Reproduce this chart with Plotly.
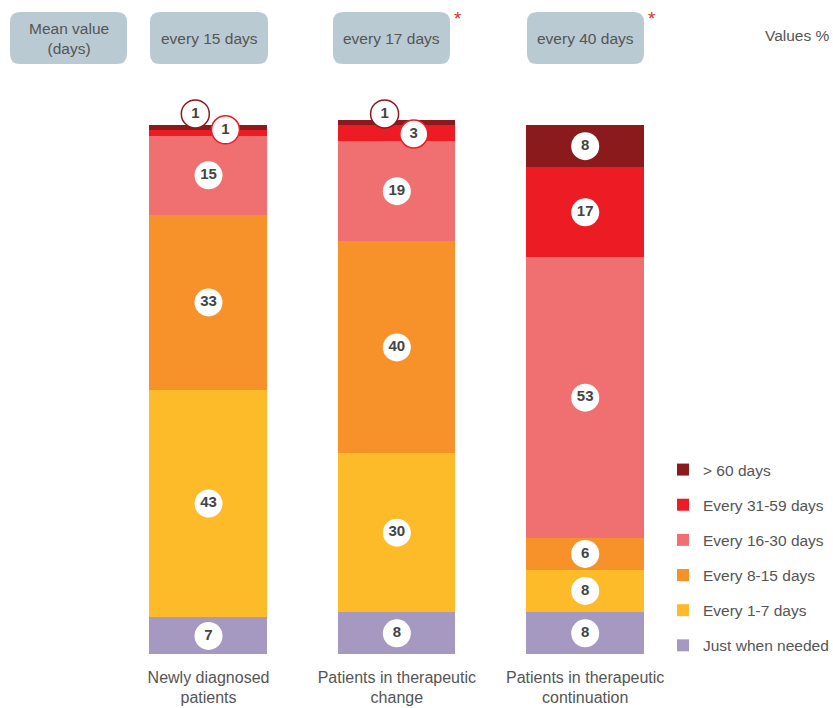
import plotly.graph_objects as go

# ---------------- data ----------------
categories = ["Newly diagnosed<br>patients", "Patients in therapeutic<br>change",
              "Patients in therapeutic<br>continuation"]
series_names = ["Just when needed", "Every 1-7 days", "Every 8-15 days",
                "Every 16-30 days", "Every 31-59 days", "> 60 days"]
just_when_needed = [7, 8, 8]
every_1_7 = [43, 30, 8]
every_8_15 = [33, 40, 6]
every_16_30 = [15, 19, 53]
every_31_59 = [1, 3, 17]
over_60 = [1, 1, 8]
series_values = [just_when_needed, every_1_7, every_8_15, every_16_30, every_31_59, over_60]
mean_values = ["every 15 days", "every 17 days", "every 40 days"]
significant = [False, True, True]

# ---------------- style ----------------
colors = ["#A599C1", "#FDBB2A", "#F7922A", "#F07071", "#ED1C24", "#8A1A1C"]
W, H = 833, 708
FONT = "Liberation Sans"
TXT = "#555555"
FS = 15.5

def px_x(p):
    return p / W

def px_y(p):
    return 1 - p / H

fig = go.Figure()
xs = [0, 1, 2]
n = len(series_names)
for i, (name, vals, col) in enumerate(zip(series_names, series_values, colors)):
    fig.add_trace(go.Bar(x=xs, y=vals, name=name, marker=dict(color=col, line=dict(width=0)),
                         width=0.625, legendgroup=name, legendrank=n - i, hoverinfo="skip"))

# label circles (offsets for the tiny segments so that labels don't overlap)
small_offsets = {  # (series index, bar index): (dx, dy, outline colour)
    (5, 0): (-0.07, 2.6, colors[5]),
    (4, 0): (0.09, 0.6, colors[4]),
    (5, 1): (-0.065, 1.6, colors[5]),
    (4, 1): (0.09, -0.2, colors[4]),
}
cum = [0, 0, 0]
lx, ly, lt, lc, lw = [], [], [], [], []
for si, vals in enumerate(series_values):
    for bi, v in enumerate(vals):
        mid = cum[bi] + v / 2
        cum[bi] += v
        dx, dy, oc = small_offsets.get((si, bi), (0, 0, "white"))
        lx.append(xs[bi] + dx)
        ly.append(mid + dy)
        lt.append(str(v))
        lc.append(oc)
        lw.append(1.5 if (si, bi) in small_offsets else 0)

fig.add_trace(go.Scatter(x=lx, y=ly, text=lt, mode="markers+text", showlegend=False,
                         hoverinfo="skip", cliponaxis=False,
                         marker=dict(size=28, color="white", line=dict(color=lc, width=lw)),
                         textfont=dict(family=FONT, size=15, color="#444444", weight="bold"),
                         textposition="middle center"))

# ---------------- layout ----------------
def rounded_rect(x0, y0, x1, y1, r=10):
    X0, X1 = px_x(x0), px_x(x1)
    Y0, Y1 = px_y(y0), px_y(y1)
    rx, ry = r / W, r / H
    return (f"M{X0+rx},{Y0} L{X1-rx},{Y0} Q{X1},{Y0} {X1},{Y0-ry} "
            f"L{X1},{Y1+ry} Q{X1},{Y1} {X1-rx},{Y1} L{X0+rx},{Y1} Q{X0},{Y1} {X0},{Y1+ry} "
            f"L{X0},{Y0-ry} Q{X0},{Y0} {X0+rx},{Y0} Z")

boxes = [(10, 12, 127, 64), (150, 12, 268, 64), (333, 12, 450, 64), (527, 12, 644, 64)]
box_texts = ["Mean value<br>(days)"] + mean_values
shapes = []
annotations = []
for (x0, y0, x1, y1), t in zip(boxes, box_texts):
    shapes.append(dict(type="path", path=rounded_rect(x0, y0, x1, y1), xref="paper", yref="paper",
                       fillcolor="#B9CAD3", line=dict(width=0), layer="below"))
    annotations.append(dict(x=px_x((x0 + x1) / 2), y=px_y((y0 + y1) / 2), xref="paper", yref="paper",
                            text=t, showarrow=False, font=dict(family=FONT, size=FS, color=TXT),
                            xanchor="center", yanchor="middle"))
for (x0, y0, x1, y1), sig in zip(boxes[1:], significant):
    if sig:
        annotations.append(dict(x=px_x(x1 + 8), y=px_y(18), xref="paper", yref="paper", text="*",
                                showarrow=False, font=dict(family=FONT, size=19, color="#D9302A"),
                                xanchor="center", yanchor="middle"))
annotations.append(dict(x=px_x(797), y=px_y(36), xref="paper", yref="paper", text="Values %",
                        showarrow=False, font=dict(family=FONT, size=FS, color=TXT),
                        xanchor="center", yanchor="middle"))

UNIT = 5.295      # pixels per percentage point
SPACING = 188.35  # pixels between bar centres
C0 = 208.5        # pixel centre of first bar
BOTTOM = 654.5
y_top = 110
fig.update_layout(
    width=W, height=H,
    margin=dict(l=0, r=0, t=0, b=0, autoexpand=False),
    paper_bgcolor="white", plot_bgcolor="white",
    barmode="stack", bargap=0,
    font=dict(family=FONT, size=FS, color=TXT),
    xaxis=dict(domain=[px_x(C0 - SPACING / 2), px_x(C0 + 2.5 * SPACING)], range=[-0.5, 2.5],
               tickvals=xs, ticktext=categories, showgrid=False, zeroline=False, showline=False,
               ticks="", ticklabelstandoff=11,
               tickfont=dict(family=FONT, size=16, color=TXT)),
    yaxis=dict(domain=[px_y(BOTTOM), px_y(BOTTOM - UNIT * y_top)], range=[0, y_top], visible=False),
    legend=dict(x=px_x(663), y=px_y(453), xanchor="left", yanchor="top",
                traceorder="grouped", tracegroupgap=12,
                font=dict(family=FONT, size=FS, color=TXT), bgcolor="rgba(0,0,0,0)"),
    shapes=shapes, annotations=annotations,
)

fig.write_html("out.html", config={"displayModeBar": False},
               post_script="document.body.style.margin='0';document.body.style.overflow='hidden';")
